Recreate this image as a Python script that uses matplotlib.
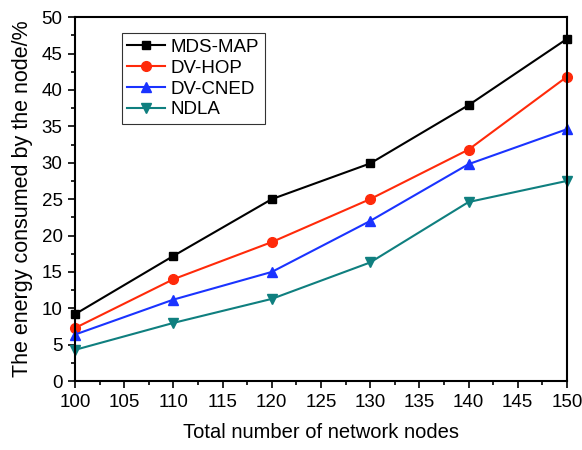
import matplotlib
matplotlib.use('Agg')
import matplotlib.pyplot as plt
from matplotlib.ticker import MultipleLocator

plt.rcParams['font.family'] = ['Liberation Sans', 'DejaVu Sans']

nodes = [100, 110, 120, 130, 140, 150]
mds_map = [9.2, 17.2, 25.0, 29.9, 37.9, 47.0]
dv_hop = [7.3, 14.0, 19.1, 25.0, 31.8, 41.8]
dv_cned = [6.4, 11.2, 15.0, 22.0, 29.8, 34.6]
ndla = [4.3, 8.0, 11.3, 16.3, 24.6, 27.5]

fig = plt.figure(figsize=(5.82, 4.5), dpi=100)
ax = fig.add_axes([0.129, 0.153, 0.845, 0.809])

ax.plot(nodes, mds_map, color='black', marker='s', markersize=6, lw=1.5, label='MDS-MAP', clip_on=False)
ax.plot(nodes, dv_hop, color='#ff2a0a', marker='o', markersize=7, lw=1.5, label='DV-HOP', clip_on=False)
ax.plot(nodes, dv_cned, color='#1a33ff', marker='^', markersize=7, lw=1.5, label='DV-CNED', clip_on=False)
ax.plot(nodes, ndla, color='#0f7f7f', marker='v', markersize=7, lw=1.5, label='NDLA', clip_on=False)

ax.set_xlim(100, 150)
ax.set_ylim(0, 50)
ax.xaxis.set_major_locator(MultipleLocator(5))
ax.xaxis.set_minor_locator(MultipleLocator(2.5))
ax.yaxis.set_major_locator(MultipleLocator(5))
ax.yaxis.set_minor_locator(MultipleLocator(2.5))
ax.tick_params(which='both', direction='out', width=1.2, labelsize=13.5, top=False, right=False)
ax.tick_params(which='major', length=5, pad=4)
ax.tick_params(which='minor', length=3)
for s in ax.spines.values():
    s.set_linewidth(1.5)

ax.set_xlabel('Total number of network nodes', fontsize=14.5, labelpad=9)
ax.set_ylabel('The energy consumed by the node/%', fontsize=15.5, labelpad=6)

leg = ax.legend(loc='upper left', bbox_to_anchor=(0.095, 0.956), borderaxespad=0, fontsize=13.5,
                frameon=True, fancybox=False, edgecolor='black', borderpad=0.3, labelspacing=0.2,
                handlelength=2.0, handletextpad=0.3)
leg.get_frame().set_linewidth(0.8)

fig.savefig('out.png', dpi=100)
